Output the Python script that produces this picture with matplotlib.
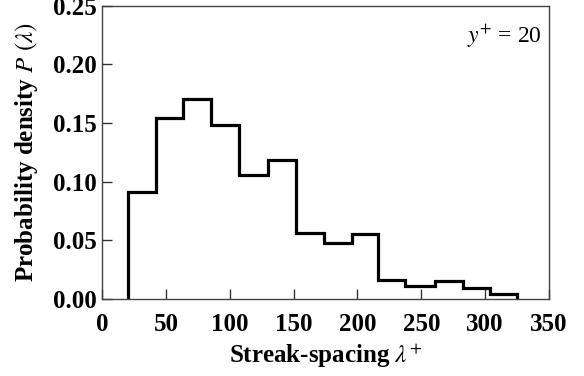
import matplotlib
matplotlib.use("Agg")
import matplotlib.pyplot as plt

matplotlib.rcParams.update({
    "font.family": "Liberation Serif",
    "mathtext.fontset": "stix",
})

# streak-spacing histogram at y+ = 20
bin_edges = [20, 42, 63, 85, 107, 130, 152, 174, 196, 216, 237, 261, 283, 304, 325]
density = [0.091, 0.154, 0.170, 0.148, 0.106, 0.118, 0.056, 0.048,
           0.055, 0.016, 0.011, 0.015, 0.009, 0.004]

x_ticks = [0, 50, 100, 150, 200, 250, 300, 350]
y_ticks = [0.00, 0.05, 0.10, 0.15, 0.20, 0.25]

fig = plt.figure(figsize=(5.84, 3.76), dpi=100)
ax = fig.add_axes([0.175, 0.205, 0.765, 0.78])

ax.stairs(density, bin_edges, baseline=0, color="black", linewidth=2.3)

ax.set_xlim(0, 350)
ax.set_ylim(0, 0.25)
ax.set_xticks(x_ticks)
ax.set_yticks(y_ticks)
ax.set_xticklabels([str(t) for t in x_ticks], fontsize=18, fontweight="bold")
ax.set_yticklabels([f"{t:.2f}" for t in y_ticks], fontsize=18, fontweight="bold")
ax.tick_params(direction="in", length=7, width=1, color="#333333")
ax.tick_params(axis="x", pad=10)
ax.tick_params(axis="y", pad=4)

for sp in ax.spines.values():
    sp.set_color("#444444")
    sp.set_linewidth(1.0)

ax.set_xlabel(r"Streak-spacing $\lambda^{+}$", fontsize=18, fontweight="bold", labelpad=4)
ax.set_ylabel(r"Probability density $P\ (\lambda)$", fontsize=18, fontweight="bold", labelpad=9)

ax.text(0.985, 0.895, r"$y^{+}$ = 20", transform=ax.transAxes, ha="right", va="center",
        fontsize=17)

fig.savefig("out.png", dpi=100)
